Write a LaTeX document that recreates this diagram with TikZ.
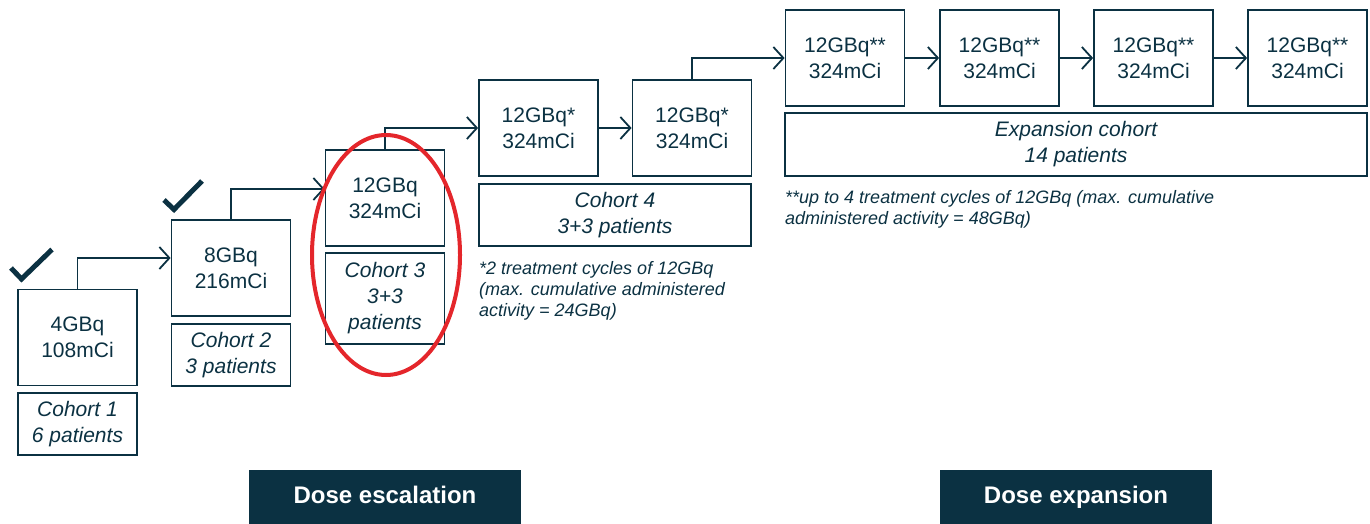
\documentclass[tikz,border=0pt]{standalone}
\usepackage{fontspec}
\setmainfont{Liberation Sans}
\usetikzlibrary{positioning, arrows.meta}
\usepackage{xcolor}
\definecolor{deepteal}{HTML}{0B3142}
\definecolor{circlered}{HTML}{E4262B}

\begin{document}
\begin{tikzpicture}[x=1pt, y=-1pt,
    dosebox/.style={draw=deepteal, line width=1.8pt, text=deepteal, minimum width=119pt, minimum height=96pt, inner sep=0pt, align=center, font=\fontsize{21}{26}\selectfont},
    cohortbox/.style={draw=deepteal, line width=1.8pt, text=deepteal, minimum width=119pt, minimum height=62pt, inner sep=0pt, align=center, font=\fontsize{21}{26}\selectfont\itshape},
    phasebar/.style={fill=deepteal, text=white, minimum width=272pt, minimum height=54pt, inner sep=0pt, text height=17pt, text depth=5pt, font=\fontsize{24}{28}\selectfont\bfseries},
    footnote/.style={text=deepteal, anchor=north west, inner sep=0pt, align=left, font=\fontsize{18}{21}\selectfont\itshape},
    flow/.style={draw=deepteal, line width=1.8pt, -{Straight Barb[length=10pt, width=22pt]}},
    tick/.style={draw=deepteal, line width=5pt}]
\useasboundingbox (0,0) rectangle (1370,524);

% dose escalation
\node[dosebox] (d1) at (77.5,337.5) {4GBq\\108mCi};
\node[cohortbox, below=6pt of d1] (c1) {Cohort 1\\6 patients};
\node[dosebox] (d2) at (231,268) {8GBq\\216mCi};
\node[cohortbox, below=6pt of d2] (c2) {Cohort 2\\3 patients};
\node[dosebox] (d3) at (385,198) {12GBq\\324mCi};
\node[cohortbox, minimum height=91pt, below=5pt of d3] (c3) {Cohort 3\\3+3\\patients};
\node[dosebox] (d4a) at (538.5,128) {12GBq*\\324mCi};
\node[dosebox] (d4b) at (692,128) {12GBq*\\324mCi};
\node[cohortbox, minimum width=272pt] (c4) at (615,215) {Cohort 4\\3+3 patients};
\node[footnote] (n4) at (479,261) {*2 treatment cycles of 12GBq\\(max. cumulative administered\\activity = 24GBq)};

% dose expansion
\foreach \n/\x in {a/845, b/999.5, c/1153.5, d/1307.5}
    \node[dosebox] (d5\n) at (\x,58) {12GBq**\\324mCi};
\node[cohortbox, minimum width=582pt, minimum height=63pt] (c5) at (1076,144.5) {Expansion cohort\\14 patients};
\node[footnote] (n5) at (785,190) {**up to 4 treatment cycles of 12GBq (max. cumulative\\administered activity = 48GBq)};

\draw[flow] (d1.north) |- ([yshift=10pt]d2.west);
\draw[flow] (d2.north) |- ([yshift=9pt]d3.west);
\draw[flow] (d3.north) |- (d4a.west);
\draw[flow] (d4a) -- (d4b);
\draw[flow] (d4b.north) |- (d5a.west);
\foreach \a/\b in {a/b, b/c, c/d}
    \draw[flow] (d5\a) -- (d5\b);

\draw[tick] (11,268) -- (21.5,279) -- (52,249.5);
\draw[tick] (164,200) -- (174,209.5) -- (202,181);

\draw[circlered, line width=4pt] (386,255) ellipse [x radius=74, y radius=120];

\node[phasebar] (esc) at (385,497) {Dose escalation};
\node[phasebar] (exp) at (1076,497) {Dose expansion};
\end{tikzpicture}
\end{document}
